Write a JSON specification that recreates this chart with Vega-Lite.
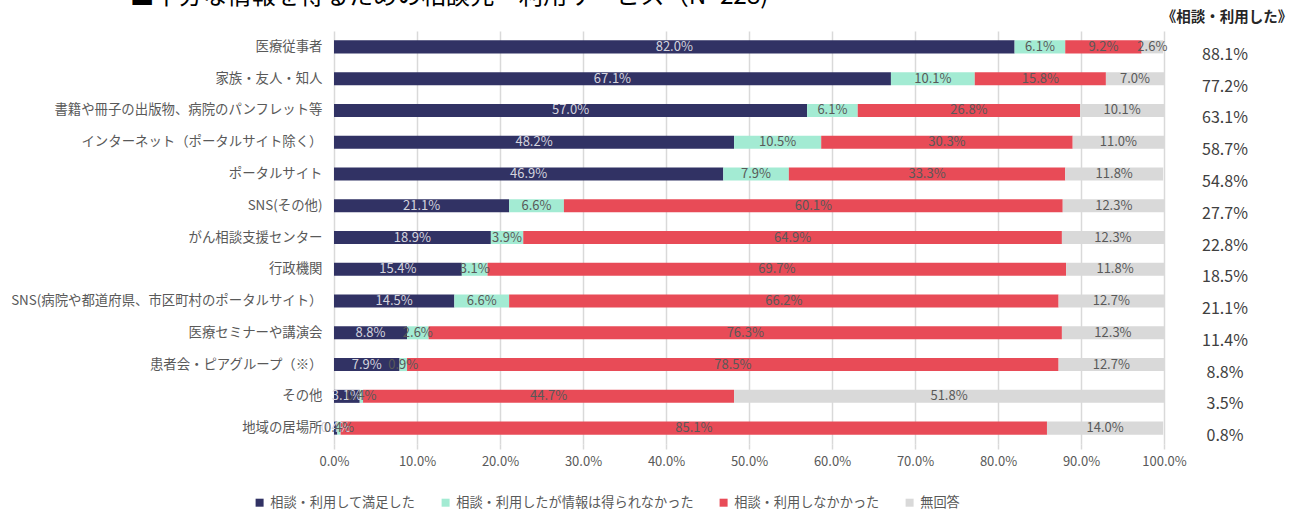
{
  "$schema": "https://vega.github.io/schema/vega-lite/v6.json",
  "autosize": {"type": "none"},
  "padding": {"left": 334, "top": 31, "right": 135, "bottom": 67},
  "width": 830,
  "height": 413,
  "background": "white",
  "config": {
    "font": "Noto Sans CJK JP",
    "view": {"stroke": null}
  },
  "title": {
    "text": "■十分な情報を得るための相談先・利用サービス（N=228)",
    "anchor": "start",
    "frame": "group",
    "dx": -204,
    "offset": -18,
    "baseline": "alphabetic",
    "fontSize": 24.3,
    "fontWeight": "normal",
    "color": "#000000"
  },
  "datasets": {
    "main": [
      {"item": "医療従事者", "cat": "相談・利用して満足した", "k": 1, "v": 0.820},
      {"item": "医療従事者", "cat": "相談・利用したが情報は得られなかった", "k": 2, "v": 0.061},
      {"item": "医療従事者", "cat": "相談・利用しなかかった", "k": 3, "v": 0.092},
      {"item": "医療従事者", "cat": "無回答", "k": 4, "v": 0.026},
      {"item": "家族・友人・知人", "cat": "相談・利用して満足した", "k": 1, "v": 0.671},
      {"item": "家族・友人・知人", "cat": "相談・利用したが情報は得られなかった", "k": 2, "v": 0.101},
      {"item": "家族・友人・知人", "cat": "相談・利用しなかかった", "k": 3, "v": 0.158},
      {"item": "家族・友人・知人", "cat": "無回答", "k": 4, "v": 0.070},
      {"item": "書籍や冊子の出版物、病院のパンフレット等", "cat": "相談・利用して満足した", "k": 1, "v": 0.570},
      {"item": "書籍や冊子の出版物、病院のパンフレット等", "cat": "相談・利用したが情報は得られなかった", "k": 2, "v": 0.061},
      {"item": "書籍や冊子の出版物、病院のパンフレット等", "cat": "相談・利用しなかかった", "k": 3, "v": 0.268},
      {"item": "書籍や冊子の出版物、病院のパンフレット等", "cat": "無回答", "k": 4, "v": 0.101},
      {"item": "インターネット（ポータルサイト除く）", "cat": "相談・利用して満足した", "k": 1, "v": 0.482},
      {"item": "インターネット（ポータルサイト除く）", "cat": "相談・利用したが情報は得られなかった", "k": 2, "v": 0.105},
      {"item": "インターネット（ポータルサイト除く）", "cat": "相談・利用しなかかった", "k": 3, "v": 0.303},
      {"item": "インターネット（ポータルサイト除く）", "cat": "無回答", "k": 4, "v": 0.110},
      {"item": "ポータルサイト", "cat": "相談・利用して満足した", "k": 1, "v": 0.469},
      {"item": "ポータルサイト", "cat": "相談・利用したが情報は得られなかった", "k": 2, "v": 0.079},
      {"item": "ポータルサイト", "cat": "相談・利用しなかかった", "k": 3, "v": 0.333},
      {"item": "ポータルサイト", "cat": "無回答", "k": 4, "v": 0.118},
      {"item": "SNS(その他)", "cat": "相談・利用して満足した", "k": 1, "v": 0.211},
      {"item": "SNS(その他)", "cat": "相談・利用したが情報は得られなかった", "k": 2, "v": 0.066},
      {"item": "SNS(その他)", "cat": "相談・利用しなかかった", "k": 3, "v": 0.601},
      {"item": "SNS(その他)", "cat": "無回答", "k": 4, "v": 0.123},
      {"item": "がん相談支援センター", "cat": "相談・利用して満足した", "k": 1, "v": 0.189},
      {"item": "がん相談支援センター", "cat": "相談・利用したが情報は得られなかった", "k": 2, "v": 0.039},
      {"item": "がん相談支援センター", "cat": "相談・利用しなかかった", "k": 3, "v": 0.649},
      {"item": "がん相談支援センター", "cat": "無回答", "k": 4, "v": 0.123},
      {"item": "行政機関", "cat": "相談・利用して満足した", "k": 1, "v": 0.154},
      {"item": "行政機関", "cat": "相談・利用したが情報は得られなかった", "k": 2, "v": 0.031},
      {"item": "行政機関", "cat": "相談・利用しなかかった", "k": 3, "v": 0.697},
      {"item": "行政機関", "cat": "無回答", "k": 4, "v": 0.118},
      {"item": "SNS(病院や都道府県、市区町村のポータルサイト）", "cat": "相談・利用して満足した", "k": 1, "v": 0.145},
      {"item": "SNS(病院や都道府県、市区町村のポータルサイト）", "cat": "相談・利用したが情報は得られなかった", "k": 2, "v": 0.066},
      {"item": "SNS(病院や都道府県、市区町村のポータルサイト）", "cat": "相談・利用しなかかった", "k": 3, "v": 0.662},
      {"item": "SNS(病院や都道府県、市区町村のポータルサイト）", "cat": "無回答", "k": 4, "v": 0.127},
      {"item": "医療セミナーや講演会", "cat": "相談・利用して満足した", "k": 1, "v": 0.088},
      {"item": "医療セミナーや講演会", "cat": "相談・利用したが情報は得られなかった", "k": 2, "v": 0.026},
      {"item": "医療セミナーや講演会", "cat": "相談・利用しなかかった", "k": 3, "v": 0.763},
      {"item": "医療セミナーや講演会", "cat": "無回答", "k": 4, "v": 0.123},
      {"item": "患者会・ピアグループ（※）", "cat": "相談・利用して満足した", "k": 1, "v": 0.079},
      {"item": "患者会・ピアグループ（※）", "cat": "相談・利用したが情報は得られなかった", "k": 2, "v": 0.009},
      {"item": "患者会・ピアグループ（※）", "cat": "相談・利用しなかかった", "k": 3, "v": 0.785},
      {"item": "患者会・ピアグループ（※）", "cat": "無回答", "k": 4, "v": 0.127},
      {"item": "その他", "cat": "相談・利用して満足した", "k": 1, "v": 0.031},
      {"item": "その他", "cat": "相談・利用したが情報は得られなかった", "k": 2, "v": 0.004},
      {"item": "その他", "cat": "相談・利用しなかかった", "k": 3, "v": 0.447},
      {"item": "その他", "cat": "無回答", "k": 4, "v": 0.518},
      {"item": "地域の居場所", "cat": "相談・利用して満足した", "k": 1, "v": 0.004},
      {"item": "地域の居場所", "cat": "相談・利用したが情報は得られなかった", "k": 2, "v": 0.004},
      {"item": "地域の居場所", "cat": "相談・利用しなかかった", "k": 3, "v": 0.851},
      {"item": "地域の居場所", "cat": "無回答", "k": 4, "v": 0.140}
    ],
    "totals": [
      {"item": "医療従事者", "t": 0.881},
      {"item": "家族・友人・知人", "t": 0.772},
      {"item": "書籍や冊子の出版物、病院のパンフレット等", "t": 0.631},
      {"item": "インターネット（ポータルサイト除く）", "t": 0.587},
      {"item": "ポータルサイト", "t": 0.548},
      {"item": "SNS(その他)", "t": 0.277},
      {"item": "がん相談支援センター", "t": 0.228},
      {"item": "行政機関", "t": 0.185},
      {"item": "SNS(病院や都道府県、市区町村のポータルサイト）", "t": 0.211},
      {"item": "医療セミナーや講演会", "t": 0.114},
      {"item": "患者会・ピアグループ（※）", "t": 0.088},
      {"item": "その他", "t": 0.035},
      {"item": "地域の居場所", "t": 0.008}
    ]
  },
  "encoding": {
    "y": {
      "field": "item",
      "type": "nominal",
      "scale": {
        "domain": ["医療従事者", "家族・友人・知人", "書籍や冊子の出版物、病院のパンフレット等", "インターネット（ポータルサイト除く）", "ポータルサイト", "SNS(その他)", "がん相談支援センター", "行政機関", "SNS(病院や都道府県、市区町村のポータルサイト）", "医療セミナーや講演会", "患者会・ピアグループ（※）", "その他", "地域の居場所"],
        "paddingInner": 0.59,
        "paddingOuter": 0.295
      },
      "axis": {
        "title": null,
        "ticks": false,
        "domain": false,
        "labelFontSize": 13.4,
        "labelColor": "#595959",
        "labelPadding": 12,
        "labelLimit": 400
      }
    }
  },
  "layer": [
    {
      "data": {"name": "main"},
      "transform": [
        {"stack": "v", "groupby": ["item"], "sort": [{"field": "k", "order": "ascending"}], "as": ["s0", "s1"]},
        {"calculate": "(datum.s0 + datum.s1) / 2", "as": "mid"}
      ],
      "layer": [
        {
          "mark": {"type": "bar"},
          "encoding": {
            "x": {
              "field": "s0",
              "type": "quantitative",
              "scale": {"domain": [0, 1], "nice": false, "zero": true},
              "axis": {
                "title": null,
                "values": [0, 0.1, 0.2, 0.3, 0.4, 0.5, 0.6, 0.7, 0.8, 0.9, 1.0],
                "format": ".1%",
                "grid": true,
                "gridColor": "#d9d9d9",
                "gridWidth": 1.5,
                "domain": false,
                "ticks": true,
                "tickColor": "#d9d9d9",
                "tickWidth": 1.5,
                "tickSize": 5,
                "labelFlush": false,
                "labelFontSize": 13,
                "labelColor": "#595959",
                "labelPadding": 6
              }
            },
            "x2": {"field": "s1"},
            "color": {
              "field": "cat",
              "type": "nominal",
              "scale": {
                "domain": ["相談・利用して満足した", "相談・利用したが情報は得られなかった", "相談・利用しなかかった", "無回答"],
                "range": ["#313264", "#a3ebd3", "#e84b57", "#d9d9d9"]
              },
              "legend": {
                "title": null,
                "orient": "none",
                "direction": "horizontal",
                "legendX": -81,
                "legendY": 465,
                "symbolType": "square",
                "symbolSize": 64,
                "symbolStrokeWidth": 0,
                "labelFontSize": 13.2,
                "labelColor": "#595959",
                "labelOffset": 4,
                "columnPadding": 23,
                "labelLimit": 400
              }
            }
          }
        },
        {
          "mark": {"type": "text", "fontSize": 13, "align": "center", "baseline": "middle"},
          "encoding": {
            "x": {"field": "mid", "type": "quantitative"},
            "text": {"field": "v", "type": "quantitative", "format": ".1%"},
            "color": {
              "condition": {"test": "datum.k === 1", "value": "#d4d4de"},
              "value": "#595959"
            }
          }
        }
      ]
    },
    {
      "data": {"name": "totals"},
      "mark": {"type": "text", "fontSize": 16, "align": "center", "baseline": "middle", "dx": 61, "dy": 8, "color": "#404040"},
      "encoding": {
        "x": {"datum": 1},
        "text": {"field": "t", "type": "quantitative", "format": ".1%"}
      }
    },
    {
      "data": {"values": [{"h": "《相談・利用した》"}]},
      "mark": {"type": "text", "fontSize": 14.5, "fontWeight": "bold", "align": "center", "baseline": "middle", "dx": 63, "color": "#262626"},
      "encoding": {
        "x": {"datum": 1},
        "y": {"value": -13},
        "text": {"field": "h"}
      }
    }
  ]
}
